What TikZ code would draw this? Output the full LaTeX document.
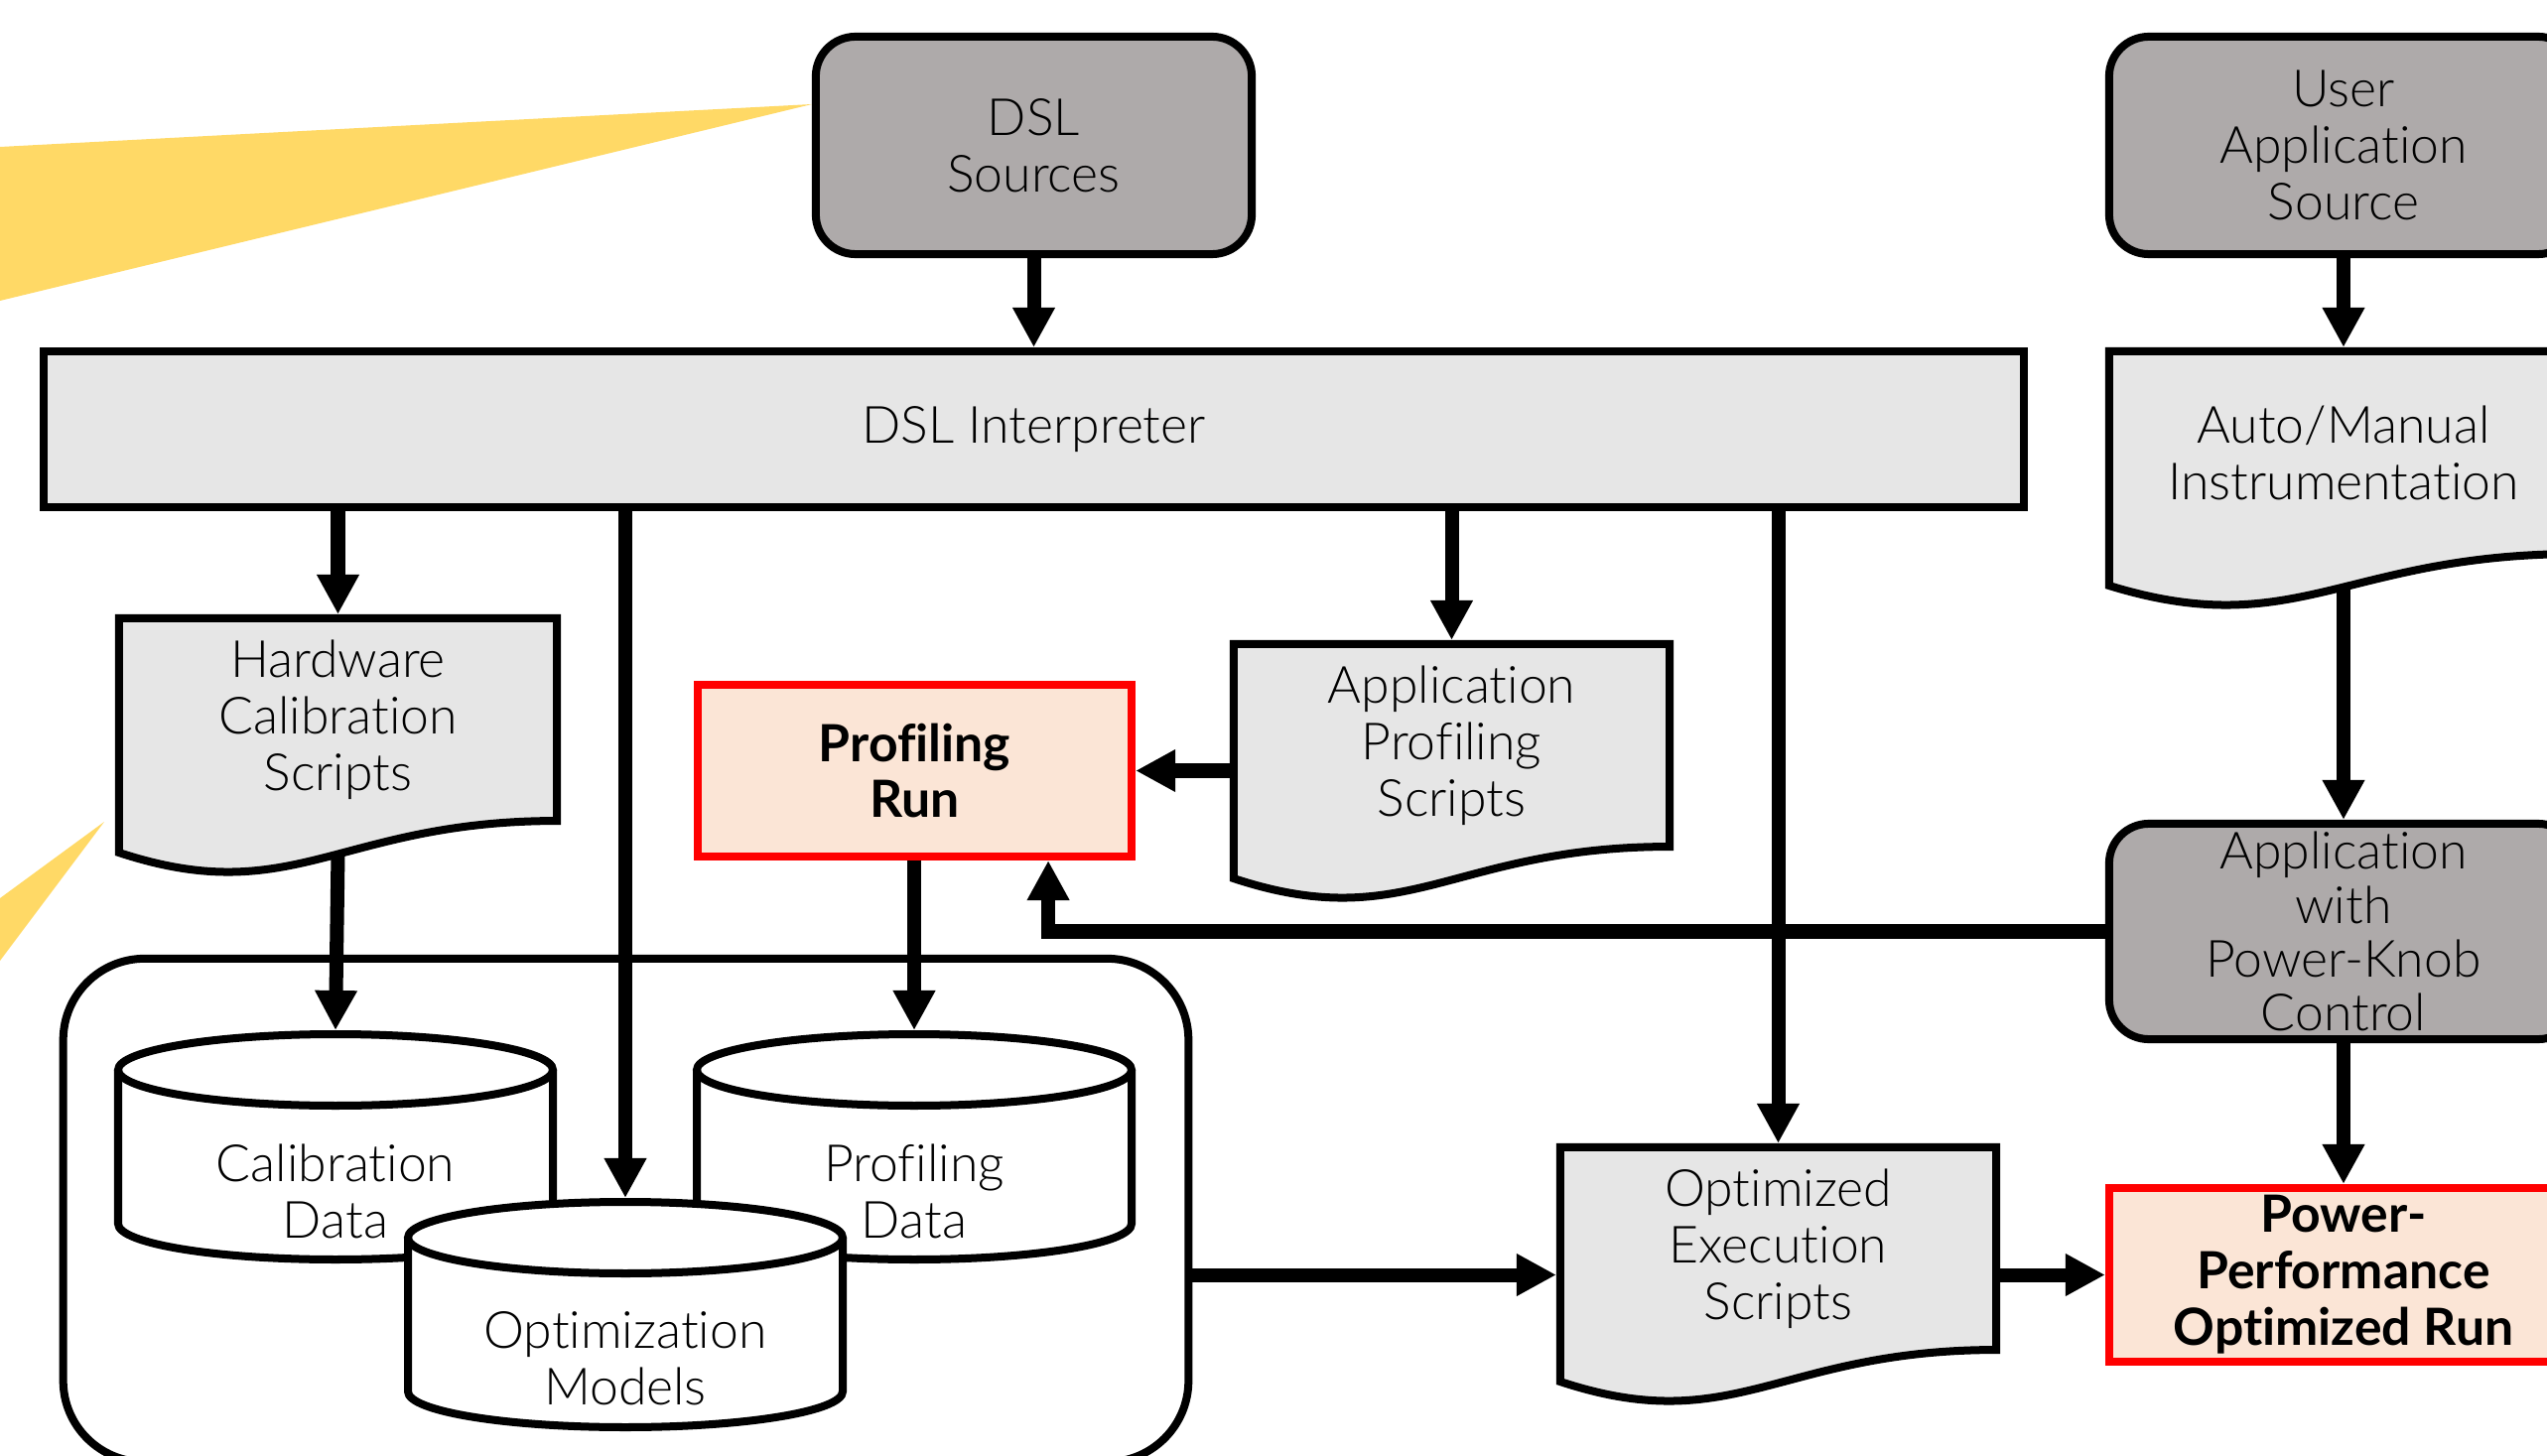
\documentclass[tikz,border=0pt]{standalone}
\usepackage{fontspec}
\setmainfont{Lato}[UprightFont=* Light, BoldFont=* Bold, Ligatures=NoCommon]
\usetikzlibrary{arrows.meta,calc}
\pgfdeclarelayer{background}
\pgfsetlayers{background,main}

\definecolor{srcgray}{HTML}{AEAAAA}
\definecolor{panelgray}{HTML}{E6E6E6}
\definecolor{runfill}{HTML}{FBE5D6}
\definecolor{runred}{HTML}{FF0000}
\definecolor{beam}{HTML}{FFD966}

\newcommand\bodyfont{\fontsize{14.7pt}{16.2pt}\selectfont}

% document (wavy bottom) outline around an invisible holder node
\newcommand\drawdoc[1]{%
  \begin{pgfonlayer}{background}
    \draw[docline] (#1.north west) -- (#1.north east) -- (#1.south east)
      .. controls (#1.south) and ($(#1.south west)!0.4!(#1.south east)+(0,-90)$)
      .. ($(#1.south west)+(0,-32)$) -- cycle;
  \end{pgfonlayer}}

% database drum: centre x, top ellipse y, bottom ellipse y (y measured downwards)
\newcommand\drawdrum[3]{%
  \fill[white] (#1-219,-#2) -- (#1-219,-#3)
    arc[start angle=180,end angle=360,x radius=219,y radius=36]
    -- (#1+219,-#2)
    arc[start angle=0,end angle=180,x radius=219,y radius=36] -- cycle;
  \draw[drumline] (#1-219,-#2) -- (#1-219,-#3)
    arc[start angle=180,end angle=360,x radius=219,y radius=36]
    -- (#1+219,-#2);
  \draw[drumline] (#1,-#2) ellipse[x radius=219,y radius=36];}

\begin{document}
\begin{tikzpicture}[x=0.01cm,y=0.01cm,
  every node/.style={font=\bodyfont, align=center, inner sep=0pt},
  srcbox/.style={draw, line width=0.08cm, fill=srcgray, rounded corners=0.4cm},
  panel/.style={draw, line width=0.08cm, fill=panelgray},
  runbox/.style={draw=runred, line width=0.08cm, fill=runfill, font=\bodyfont\bfseries},
  storebox/.style={draw, line width=0.08cm, fill=white, rounded corners=0.82cm},
  docholder/.style={outer sep=0pt, minimum height=2.04cm},
  docline/.style={draw, line width=0.08cm, fill=panelgray},
  drumline/.style={line width=0.08cm},
  arr/.style={draw, line width=0.14cm, -{Triangle[length=0.40cm,width=0.40cm]}},
  intodoc/.style={shorten >=0.04cm}]

\useasboundingbox (0,0) rectangle (2566,-1467);
\clip (0,0) rectangle (2566,-1467);

% highlight beams
\fill[beam] (0,-148) -- (818,-105) -- (0,-303) -- cycle;
\fill[beam] (0,-905) -- (105,-828) -- (0,-968) -- cycle;

% sources and interpreter
\node[srcbox, minimum width=4.39cm, minimum height=2.19cm] (dslsrc) at (1041.5,-146.5) {DSL\\Sources};
\node[srcbox, minimum width=4.72cm, minimum height=2.19cm] (usrsrc) at (2361,-146.5) {User\\Application\\Source};
\node[panel, minimum width=19.93cm, minimum height=1.57cm] (dslint) at (1041.5,-432.5) {DSL Interpreter};

% script documents
\node[docholder, minimum width=4.41cm] (hwdoc) at (340.5,-725) {Hardware\\Calibration\\Scripts};
\drawdoc{hwdoc}
\node[docholder, minimum width=4.39cm] (appprof) at (1462.5,-751) {Application\\Profiling\\Scripts};
\drawdoc{appprof}
\node[docholder, minimum width=4.72cm] (automan) at (2361,-456) {Auto/Manual\\Instrumentation};
\drawdoc{automan}
\node[docholder, minimum width=4.39cm] (optexec) at (1791.5,-1258) {Optimized\\Execution\\Scripts};
\drawdoc{optexec}

% runs
\node[runbox, minimum width=4.37cm, minimum height=1.73cm] (profrun) at (921.5,-776.5) {Profiling\\Run};
\node[srcbox, minimum width=4.72cm, minimum height=2.17cm, font=\fontsize{14.7pt}{15.4pt}\selectfont] (knob) at (2361,-938.5) {Application\\with\\Power-Knob\\Control};
\node[runbox, minimum width=4.72cm, minimum height=1.75cm] (ppopt) at (2361,-1284.5) {Power-\\Performance\\Optimized Run};

% data store
\node[storebox, minimum width=11.33cm, minimum height=5.07cm] (store) at (630.5,-1219.5) {};
\drawdrum{338}{1078}{1233}
\node (caldata) at (338,-1200) {Calibration\\Data};
\drawdrum{921}{1078}{1233}
\node (profdata) at (921,-1200) {Profiling\\Data};
\drawdrum{630}{1247}{1402}
\node (optmodels) at (630,-1369) {Optimization\\Models};
\coordinate (caltop) at (338,-1038);
\coordinate (proftop) at (921,-1038);
\coordinate (opttop) at (630,-1207);

% connectors
\draw[arr] (dslsrc) -- (dslint);
\draw[arr, intodoc] (dslint.south -| hwdoc.north) -- (hwdoc.north);
\draw[arr] (dslint.south -| opttop) -- (opttop);
\draw[arr, intodoc] (dslint.south -| appprof.north) -- (appprof.north);
\draw[arr, intodoc] (dslint.south -| optexec.north) -- (optexec.north);
\draw[arr, intodoc] (usrsrc) -- (automan.north);
\draw[arr] ($(automan.south)+(0,-33)$) -- (knob);
\draw[arr] (knob) -- (ppopt);
\draw[arr] (knob.west) -| ([xshift=-0.88cm]profrun.south east);
\draw[arr] (profrun.east -| appprof.west) -- (profrun.east);
\draw[arr] ($(hwdoc.south)+(0,-33)$) -- (caltop);
\draw[arr] (profrun.south -| proftop) -- (proftop);
\draw[arr, intodoc] (store.east |- ppopt) -- (optexec.west |- ppopt);
\draw[arr] (optexec.east |- ppopt) -- (ppopt.west);

\end{tikzpicture}
\end{document}
